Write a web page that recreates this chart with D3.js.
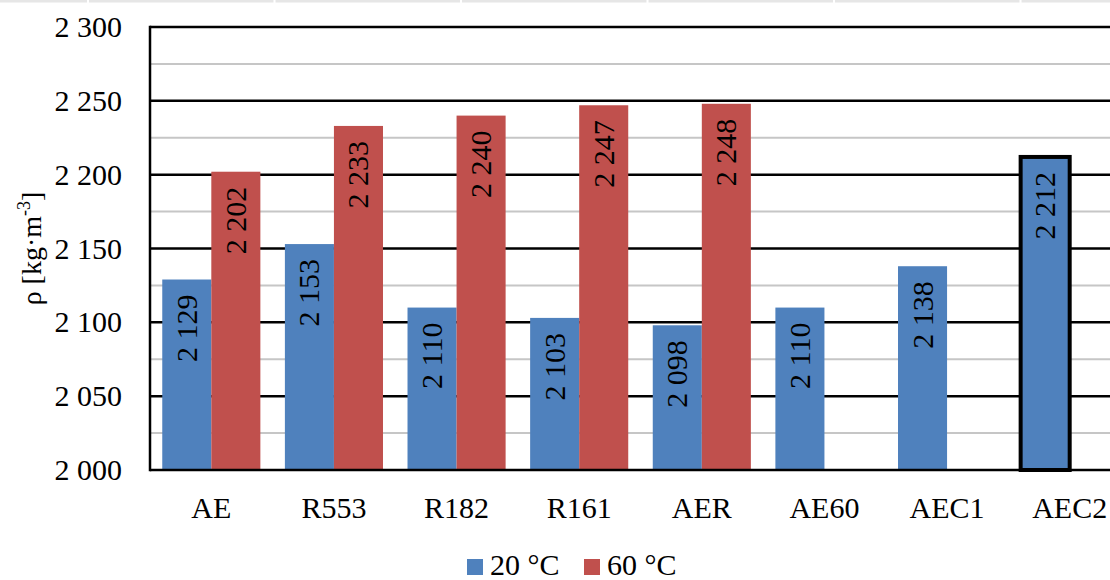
<!DOCTYPE html>
<html>
<head>
<meta charset="utf-8">
<script src="https://cdn.jsdelivr.net/npm/d3@7"></script>
<style>
  html, body { margin: 0; padding: 0; background: #fff; }
  svg { display: block; }
</style>
</head>
<body>
<svg id="chart" width="1110" height="580" font-family="'Liberation Serif', 'Times New Roman', Tinos, 'DejaVu Serif', serif"></svg>
<script>
// Bulk density of the mixes at two test temperatures
const categories = ["AE", "R553", "R182", "R161", "AER", "AE60", "AEC1", "AEC2"];
const seriesNames = ["20 °C", "60 °C"];
const values20 = [2129, 2153, 2110, 2103, 2098, 2110, 2138, 2212];
const values60 = [2202, 2233, 2240, 2247, 2248, null, null, null];
const yTicks = [2000, 2050, 2100, 2150, 2200, 2250, 2300];
const yMinorTicks = [2025, 2075, 2125, 2175, 2225, 2275];
const highlighted = ["AEC2"];

const colors = ["#4F81BD", "#C0504D"];
const fmt = v => d3.format(",")(v).replace(",", " ");

const svg = d3.select("#chart");
const W = 1110, H = 580;
const plot = { left: 150, right: 1131, top: 27, bottom: 470 };

// thin page strip along the top edge
const strip = svg.append("g");
strip.append("rect").attr("x", 0).attr("y", 0).attr("width", W).attr("height", 2.5).attr("fill", "#e6e6e6");
d3.range(6).forEach(i => {
  strip.append("rect").attr("x", 87 + i * 186.5).attr("y", 0).attr("width", 2).attr("height", 3).attr("fill", "#fff");
});

const x = d3.scaleBand().domain(categories).range([plot.left, plot.right]).paddingInner(0).paddingOuter(0);
const xs = d3.scaleBand().domain(seriesNames).range([x.bandwidth() * 0.1, x.bandwidth() * 0.9]);
const y = d3.scaleLinear().domain([2000, 2300]).range([plot.bottom, plot.top]);

// gridlines
svg.append("g").selectAll("line.minor").data(yMinorTicks).join("line")
  .attr("x1", plot.left).attr("x2", plot.right)
  .attr("y1", d => y(d)).attr("y2", d => y(d))
  .attr("stroke", "#c6c6c6").attr("stroke-width", 2);
svg.append("g").selectAll("line.major").data(yTicks.filter(d => d > 2000)).join("line")
  .attr("x1", plot.left).attr("x2", plot.right)
  .attr("y1", d => y(d)).attr("y2", d => y(d))
  .attr("stroke", "#000").attr("stroke-width", 2.5);

// bars
const rows = [];
categories.forEach((c, i) => {
  [values20[i], values60[i]].forEach((v, s) => {
    if (v != null) rows.push({ cat: c, series: seriesNames[s], si: s, value: v });
  });
});

const bars = svg.append("g");
bars.selectAll("rect").data(rows).join("rect")
  .attr("x", d => x(d.cat) + xs(d.series))
  .attr("width", xs.bandwidth())
  .attr("y", d => y(d.value))
  .attr("height", d => y(2000) - y(d.value))
  .attr("fill", d => colors[d.si])
  .attr("stroke", d => highlighted.includes(d.cat) ? "#000" : "none")
  .attr("stroke-width", d => highlighted.includes(d.cat) ? 4 : 0);

// value labels, rotated, inside the top end of each bar
svg.append("g").selectAll("text").data(rows).join("text")
  .attr("transform", d => `translate(${x(d.cat) + xs(d.series) + xs.bandwidth() / 2},${y(d.value) + 15}) rotate(-90)`)
  .attr("y", 10)
  .attr("text-anchor", "end")
  .attr("font-size", 30)
  .text(d => fmt(d.value));

// axes lines
svg.append("line")
  .attr("x1", plot.left).attr("x2", plot.right)
  .attr("y1", y(2000)).attr("y2", y(2000))
  .attr("stroke", "#000").attr("stroke-width", 2.5);
svg.append("line")
  .attr("x1", plot.left).attr("x2", plot.left)
  .attr("y1", plot.top - 1.25).attr("y2", plot.bottom + 1.25)
  .attr("stroke", "#000").attr("stroke-width", 2.5);

// y tick labels
svg.append("g").selectAll("text").data(yTicks).join("text")
  .attr("x", 122).attr("y", d => y(d) + 10)
  .attr("text-anchor", "end")
  .attr("font-size", 30)
  .text(d => fmt(d));

// category labels
svg.append("g").selectAll("text").data(categories).join("text")
  .attr("x", d => x(d) + x.bandwidth() / 2).attr("y", 518)
  .attr("text-anchor", "middle")
  .attr("font-size", 30)
  .text(d => d);

// y axis title
const yt = svg.append("text")
  .attr("transform", `translate(41,${(plot.top + plot.bottom) / 2}) rotate(-90)`)
  .attr("text-anchor", "middle")
  .attr("font-size", 28);
yt.append("tspan").text("ρ [kg·m");
yt.append("tspan").attr("font-size", 18).attr("dy", -11).text("-3");
yt.append("tspan").attr("dy", 11).text("]");

// legend
const legend = svg.append("g");
const legendX = [467, 584];
seriesNames.forEach((name, i) => {
  legend.append("rect").attr("x", legendX[i]).attr("y", 559).attr("width", 16).attr("height", 16).attr("fill", colors[i]);
  legend.append("text").attr("x", legendX[i] + 23).attr("y", 575).attr("font-size", 30).text(name);
});
</script>
</body>
</html>
